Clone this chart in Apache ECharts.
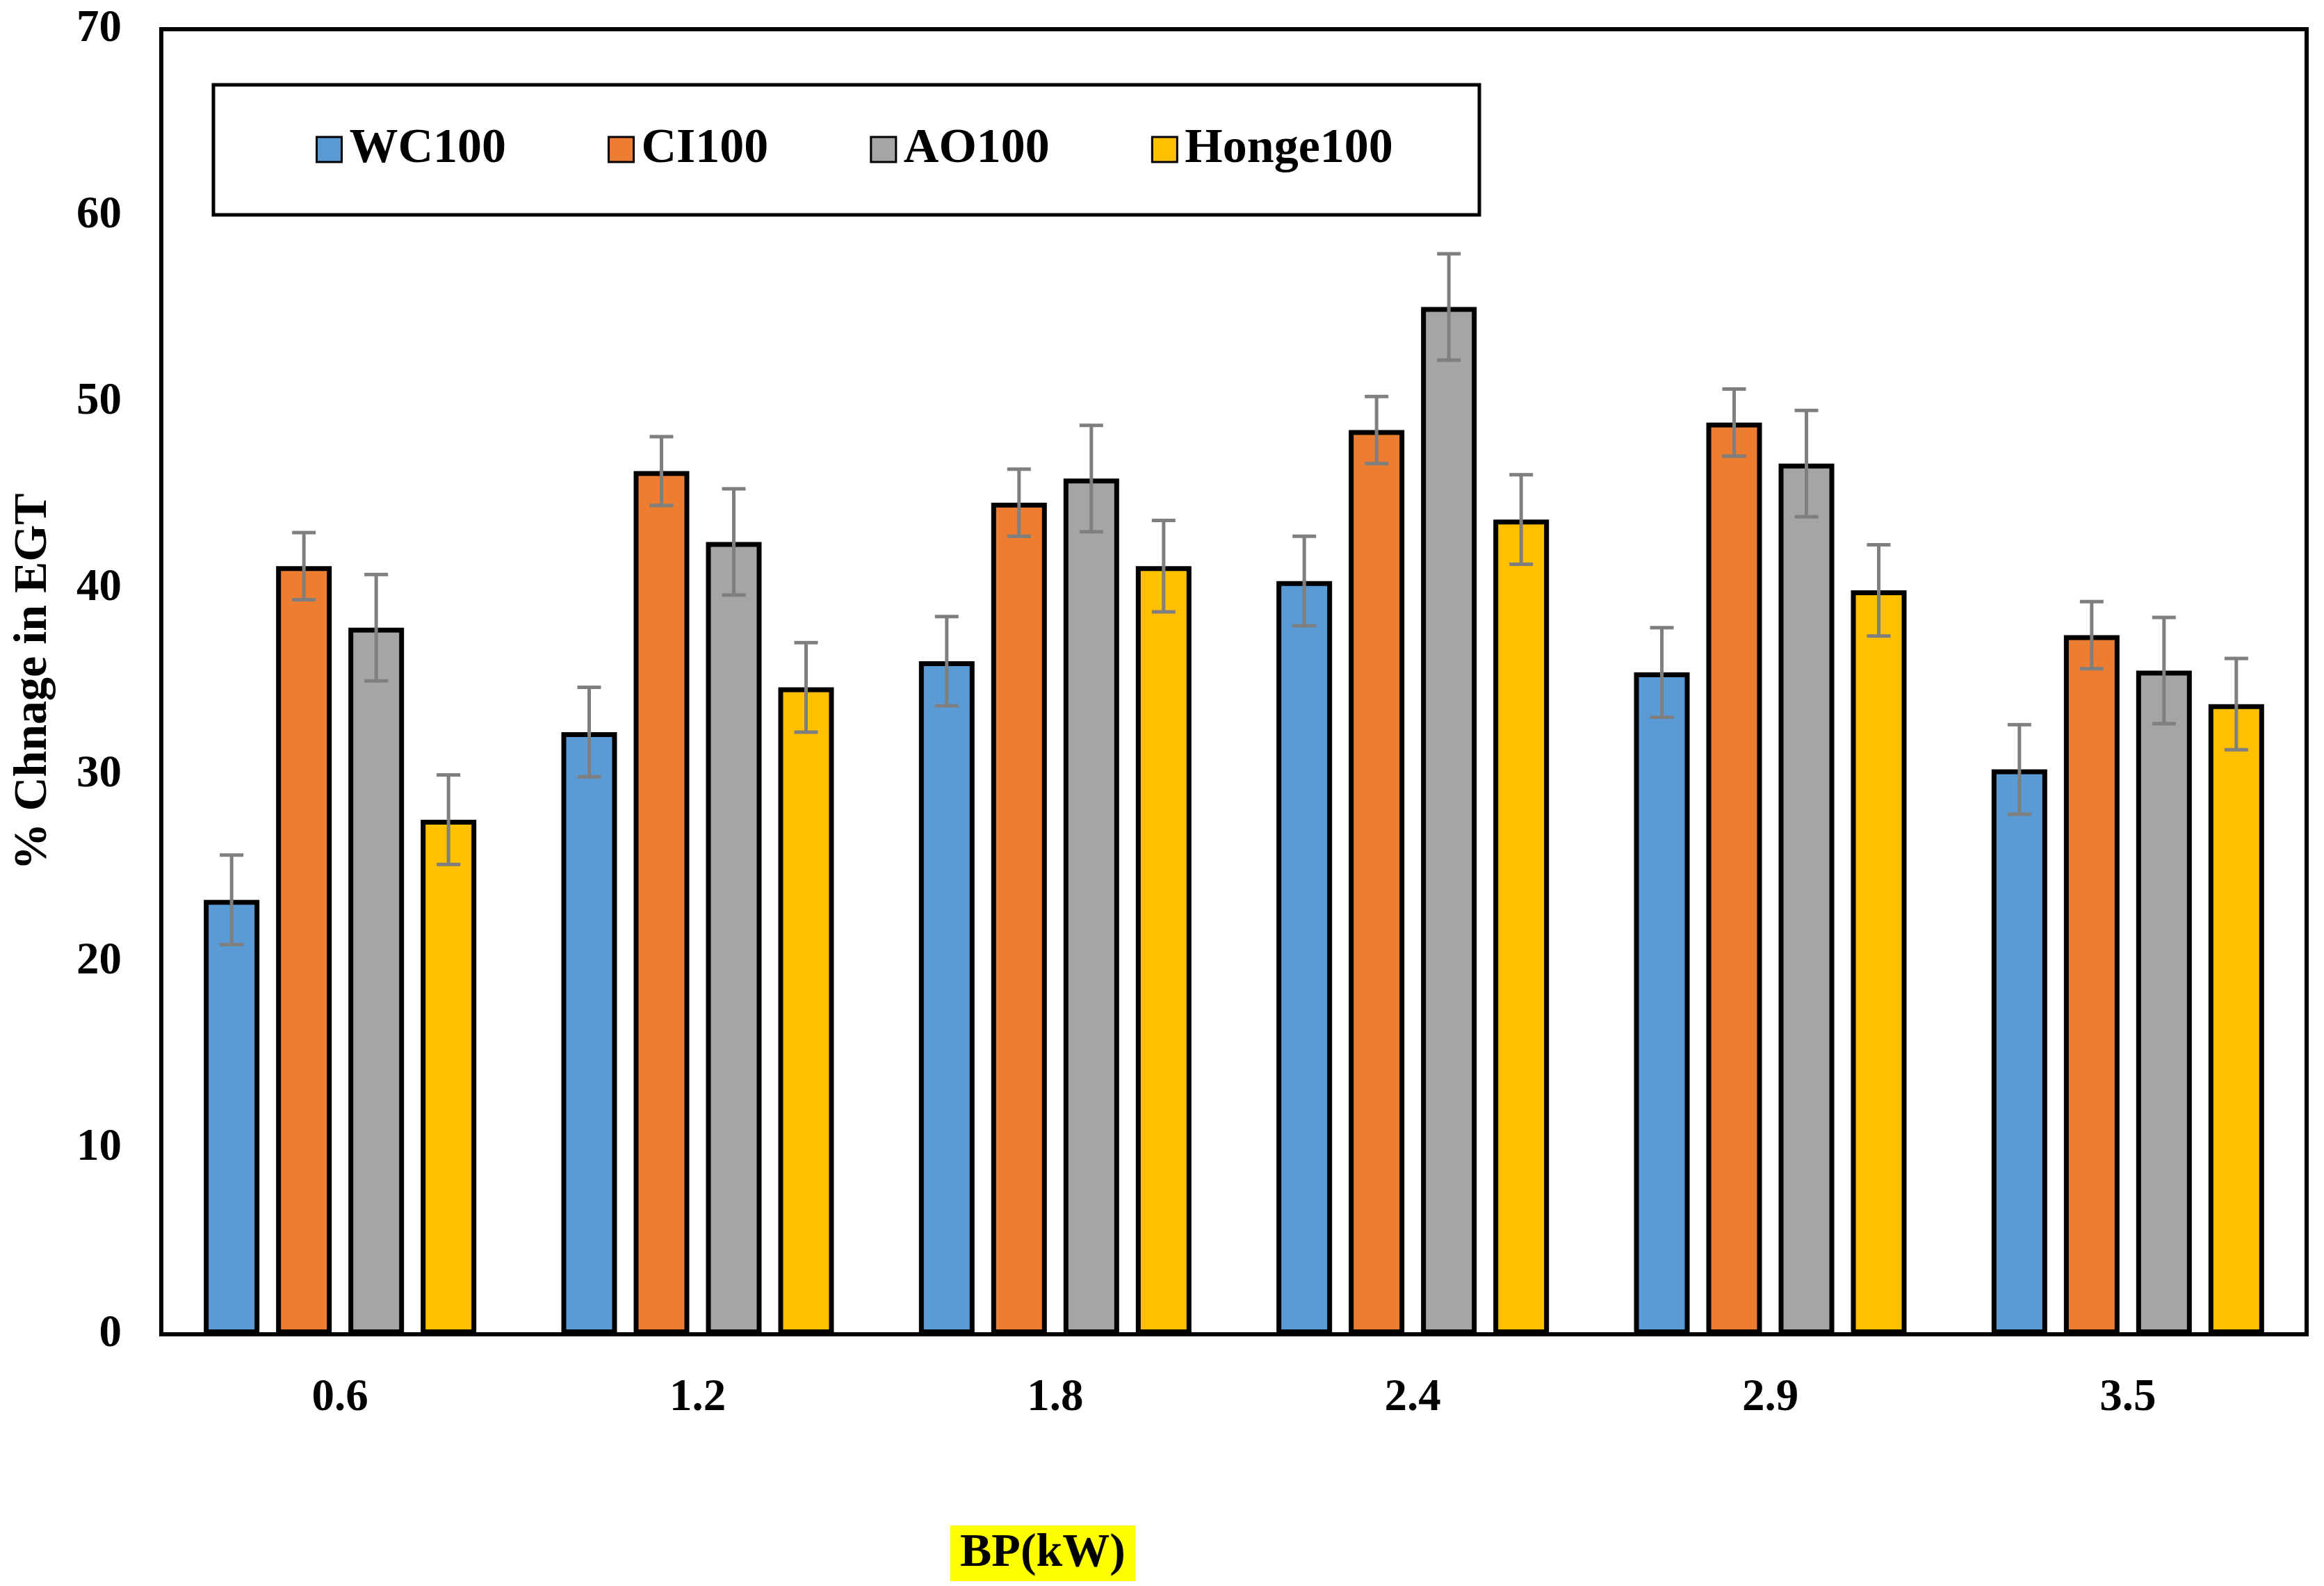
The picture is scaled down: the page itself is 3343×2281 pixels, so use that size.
<!DOCTYPE html>
<html>
<head>
<meta charset="utf-8">
<script src="https://cdn.jsdelivr.net/npm/echarts@6/dist/echarts.min.js"></script>
<style>
html,body{margin:0;padding:0;background:#fff;}
#chart{width:3343px;height:2281px;}
</style>
</head>
<body>
<div id="chart"></div>
<script>
// ---- data ----
const categories = ['0.6', '1.2', '1.8', '2.4', '2.9', '3.5'];
const seriesNames = ['WC100', 'CI100', 'AO100', 'Honge100'];
const wc100 = [23.3, 32.3, 36.1, 40.4, 35.5, 30.3];
const ci100 = [41.2, 46.3, 44.6, 48.5, 48.9, 37.5];
const ao100 = [37.9, 42.5, 45.9, 55.1, 46.7, 35.6];
const honge100 = [27.6, 34.7, 41.2, 43.7, 39.9, 33.8];
const wc100Err = [2.4, 2.4, 2.4, 2.4, 2.4, 2.4];
const ci100Err = [1.8, 1.85, 1.8, 1.8, 1.8, 1.8];
const ao100Err = [2.85, 2.85, 2.85, 2.85, 2.85, 2.85];
const honge100Err = [2.4, 2.4, 2.45, 2.4, 2.45, 2.45];
const yTicks = { min: 0, max: 70, interval: 10 };

// ---- styling ----
const colors = ['#5B9BD5', '#ED7D31', '#A5A5A5', '#FFC000'];
const FONT = "'Liberation Serif', 'Times New Roman', serif";
const BAR_W = 80;
const BAR_GAP_PX = 24;
const PITCH = BAR_W + BAR_GAP_PX;

const values = [wc100, ci100, ao100, honge100];
const errs = [wc100Err, ci100Err, ao100Err, honge100Err];

const chart = echarts.init(document.getElementById('chart'), null, { renderer: 'canvas', devicePixelRatio: 1 });

const barSeries = seriesNames.map((name, si) => ({
  name: name,
  type: 'bar',
  data: values[si],
  barWidth: BAR_W,
  barGap: (BAR_GAP_PX / BAR_W * 100).toFixed(1) + '%',
  itemStyle: { color: colors[si], borderColor: '#000', borderWidth: 7 },
  z: 2
}));

const errSeries = seriesNames.map((name, si) => ({
  name: name + ' err',
  type: 'custom',
  z: 5,
  silent: true,
  data: categories.map((c, i) => [i, values[si][i], errs[si][i]]),
  renderItem: function (params, api) {
    const ci = api.value(0), v = api.value(1), e = api.value(2);
    const hi = api.coord([ci, v + e]);
    const lo = api.coord([ci, v - e]);
    const x = hi[0] + (si - 1.5) * PITCH;
    const cap = 17;
    const st = { stroke: '#7F7F7F', lineWidth: 5 };
    return {
      type: 'group',
      children: [
        { type: 'line', shape: { x1: x, y1: hi[1], x2: x, y2: lo[1] }, style: st },
        { type: 'line', shape: { x1: x - cap, y1: hi[1], x2: x + cap, y2: hi[1] }, style: st },
        { type: 'line', shape: { x1: x - cap, y1: lo[1], x2: x + cap, y2: lo[1] }, style: st }
      ]
    };
  }
}));

const option = {
  backgroundColor: '#fff',
  animation: false,
  title: {
    text: 'BP(kW)',
    left: 1367,
    top: 2195,
    padding: [6, 14],
    backgroundColor: '#FFFF00',
    textStyle: { fontFamily: FONT, fontWeight: 'bold', fontSize: 68, color: '#000', lineHeight: 66 }
  },
  legend: {
    data: seriesNames,
    left: 454,
    top: 180,
    padding: 0,
    itemGap: 146,
    itemWidth: 36,
    itemHeight: 36,
    icon: 'rect',
    itemStyle: { borderColor: '#000', borderWidth: 3 },
    textStyle: { fontFamily: FONT, fontWeight: 'bold', fontSize: 70, color: '#000', padding: [0, 0, 0, 6] }
  },
  graphic: [
    {
      type: 'rect',
      shape: { x: 307, y: 122, width: 1821, height: 187 },
      style: { fill: 'none', stroke: '#000', lineWidth: 5 },
      z: 10
    }
  ],
  grid: {
    left: 232, right: 25, top: 42, bottom: 362,
    show: true, borderColor: '#000', borderWidth: 6, backgroundColor: 'transparent'
  },
  xAxis: {
    type: 'category',
    data: categories,
    axisLine: { show: true, lineStyle: { color: '#000', width: 6 } },
    axisTick: { show: false },
    axisLabel: { margin: 60, fontFamily: FONT, fontWeight: 'bold', fontSize: 65, color: '#000' },
    splitLine: { show: false }
  },
  yAxis: {
    type: 'value',
    min: yTicks.min, max: yTicks.max, interval: yTicks.interval,
    name: '% Chnage in EGT',
    nameLocation: 'middle',
    nameRotate: 90,
    nameGap: 150,
    nameTextStyle: { fontFamily: FONT, fontWeight: 'bold', fontSize: 68, color: '#000' },
    axisLine: { show: true, lineStyle: { color: '#000', width: 6 } },
    axisTick: { show: false },
    axisLabel: { margin: 57, fontFamily: FONT, fontWeight: 'bold', fontSize: 65, color: '#000' },
    splitLine: { show: false }
  },
  series: barSeries.concat(errSeries)
};

chart.setOption(option);
</script>
</body>
</html>
